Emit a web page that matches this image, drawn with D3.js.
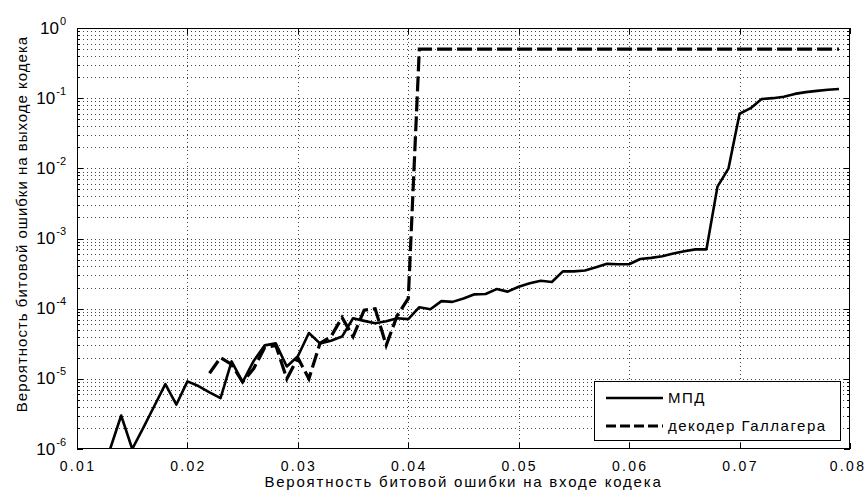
<!DOCTYPE html>
<html>
<head>
<meta charset="utf-8">
<script src="https://cdn.jsdelivr.net/npm/d3@7"></script>
<style>
  html, body { margin: 0; padding: 0; background: #fff; }
  svg text { font-family: "Liberation Sans", Arial, sans-serif; fill: #000; }
</style>
</head>
<body>
<svg id="chart" width="866" height="497"></svg>
<script>
// ---- data ----
const xTicks = [0.01, 0.02, 0.03, 0.04, 0.05, 0.06, 0.07, 0.08];
const xTickLabels = ["0.01", "0.02", "0.03", "0.04", "0.05", "0.06", "0.07", "0.08"];
const yTickExponents = [-6, -5, -4, -3, -2, -1, 0];

const seriesNames = ["МПД", "декодер Галлагера"];

const mpdX = [0.013, 0.014, 0.015, 0.016, 0.017, 0.018, 0.019, 0.020, 0.021, 0.022,
              0.023, 0.024, 0.025, 0.026, 0.027, 0.028, 0.029, 0.030, 0.031, 0.032,
              0.033, 0.034, 0.035, 0.036, 0.037, 0.038, 0.039, 0.040, 0.041, 0.042,
              0.043, 0.044, 0.045, 0.046, 0.047, 0.048, 0.049, 0.050, 0.051, 0.052,
              0.053, 0.054, 0.055, 0.056, 0.057, 0.058, 0.059, 0.060, 0.061, 0.062,
              0.063, 0.064, 0.065, 0.066, 0.067, 0.068, 0.069, 0.070, 0.071, 0.072,
              0.073, 0.074, 0.075, 0.076, 0.077, 0.078, 0.079];
const mpdY = [1.0e-6, 3.0e-6, 1.0e-6, 2.0e-6, 4.1e-6, 8.4e-6, 4.3e-6, 9.2e-6, 7.9e-6, 6.4e-6,
              5.3e-6, 1.77e-5, 9.0e-6, 1.8e-5, 3.0e-5, 3.2e-5, 1.5e-5, 2.1e-5, 4.5e-5, 3.2e-5,
              3.5e-5, 4.0e-5, 7.3e-5, 6.7e-5, 6.2e-5, 6.6e-5, 7.3e-5, 7.1e-5, 1.05e-4, 9.8e-5,
              1.28e-4, 1.25e-4, 1.4e-4, 1.6e-4, 1.62e-4, 1.9e-4, 1.75e-4, 2.05e-4, 2.3e-4, 2.5e-4,
              2.4e-4, 3.4e-4, 3.4e-4, 3.5e-4, 3.9e-4, 4.35e-4, 4.3e-4, 4.3e-4, 5.1e-4, 5.3e-4,
              5.6e-4, 6.1e-4, 6.6e-4, 7.0e-4, 7.0e-4, 5.5e-3, 1.0e-2, 6.0e-2, 7.2e-2, 9.7e-2,
              1.0e-1, 1.05e-1, 1.15e-1, 1.22e-1, 1.27e-1, 1.32e-1, 1.35e-1];

const galX = [0.022, 0.023, 0.024, 0.025, 0.026, 0.027, 0.028, 0.029, 0.030, 0.031,
              0.032, 0.033, 0.034, 0.035, 0.036, 0.037, 0.038, 0.039, 0.040, 0.041, 0.079];
const galY = [1.2e-5, 2.0e-5, 1.6e-5, 9.0e-6, 1.4e-5, 2.8e-5, 3.0e-5, 1.0e-5, 2.0e-5, 1.0e-5,
              3.2e-5, 4.0e-5, 7.5e-5, 4.0e-5, 9.5e-5, 1.0e-4, 3.0e-5, 8.0e-5, 1.4e-4, 0.5, 0.5];

// ---- layout ----
const L = 77, R = 850, T = 28, B = 449;
const svg = d3.select("#chart");

const x = d3.scaleLinear().domain([0.01, 0.08]).range([L, R]);
const y = d3.scaleLog().domain([1e-6, 1]).range([B, T]);

// minor y values
const minorY = [];
yTickExponents.slice(0, -1).forEach(e => {
  for (let m = 2; m <= 9; m++) minorY.push(m * Math.pow(10, e));
});
const majorY = yTickExponents.map(e => Math.pow(10, e));

const snap = v => Math.round(v) + 0.5;

// grid
const grid = svg.append("g").attr("stroke", "#444").attr("stroke-width", 1)
  .attr("stroke-dasharray", "1,3").attr("shape-rendering", "crispEdges");
grid.selectAll("line.h").data(majorY.concat(minorY).filter(v => v > 1e-6 && v < 1))
  .enter().append("line")
  .attr("x1", L + 2).attr("x2", R)
  .attr("y1", d => snap(y(d))).attr("y2", d => snap(y(d)));
grid.selectAll("line.v").data(xTicks.slice(1, -1))
  .enter().append("line")
  .attr("y1", T + 2).attr("y2", B)
  .attr("x1", d => snap(x(d))).attr("x2", d => snap(x(d)));

// ticks (inside), left/right and top/bottom
const ticks = svg.append("g").attr("stroke", "#000").attr("stroke-width", 1)
  .attr("shape-rendering", "crispEdges");
xTicks.forEach(v => {
  const px = snap(x(v));
  ticks.append("line").attr("x1", px).attr("x2", px).attr("y1", B).attr("y2", B - 6);
  ticks.append("line").attr("x1", px).attr("x2", px).attr("y1", T).attr("y2", T + 6);
});
majorY.forEach(v => {
  const py = snap(y(v));
  ticks.append("line").attr("x1", L).attr("x2", L + 6).attr("y1", py).attr("y2", py);
  ticks.append("line").attr("x1", R).attr("x2", R - 6).attr("y1", py).attr("y2", py);
});
minorY.forEach(v => {
  const py = snap(y(v));
  ticks.append("line").attr("x1", L).attr("x2", L + 3).attr("y1", py).attr("y2", py);
  ticks.append("line").attr("x1", R).attr("x2", R - 3).attr("y1", py).attr("y2", py);
});

// lines
const clipId = "plotclip";
svg.append("clipPath").attr("id", clipId).append("rect")
  .attr("x", L).attr("y", T).attr("width", R - L).attr("height", B - T);

const lineGen = d3.line().x(d => x(d[0])).y(d => y(d[1]));
const mpdData = mpdX.map((v, i) => [v, mpdY[i]]);
const galData = galX.map((v, i) => [v, galY[i]]);

const plot = svg.append("g").attr("clip-path", `url(#${clipId})`);
plot.append("path").datum(mpdData).attr("d", lineGen)
  .attr("fill", "none").attr("stroke", "#000").attr("stroke-width", 2.6)
  .attr("stroke-linejoin", "round");
plot.append("path").datum(galData).attr("d", lineGen)
  .attr("fill", "none").attr("stroke", "#000").attr("stroke-width", 3.2)
  .attr("stroke-dasharray", "15,5");

// frame
svg.append("rect").attr("x", L + 0.5).attr("y", T + 0.5)
  .attr("width", R - L - 1).attr("height", B - T - 1)
  .attr("fill", "none").attr("stroke", "#000").attr("stroke-width", 1)
  .attr("shape-rendering", "crispEdges");

// x tick labels
svg.append("g").selectAll("text").data(xTicks).enter().append("text")
  .attr("x", d => Math.min(x(d) + 1, 848)).attr("y", 471)
  .attr("text-anchor", "middle").attr("font-size", 14).attr("letter-spacing", 2.3)
  .text((d, i) => xTickLabels[i]);

// y tick labels 10^e
const yl = svg.append("g").selectAll("text").data(yTickExponents).enter().append("text")
  .attr("x", 66).attr("y", d => y(Math.pow(10, d)) + 5.5)
  .attr("text-anchor", "end");
yl.append("tspan").attr("font-size", 17).text("10");
yl.append("tspan").attr("font-size", 11).attr("dy", -9).attr("dx", 1)
  .text(d => d === 0 ? "0" : "-" + Math.abs(d));

// axis labels
svg.append("text").attr("x", (L + R) / 2).attr("y", 487)
  .attr("text-anchor", "middle").attr("font-size", 15).attr("letter-spacing", 1.8)
  .text("Вероятность битовой ошибки на входе кодека");
svg.append("text").attr("transform", `translate(27,224) rotate(-90)`)
  .attr("text-anchor", "middle").attr("font-size", 15).attr("letter-spacing", 1.0)
  .text("Вероятность битовой ошибки на выходе кодека");

// legend
const lg = svg.append("g");
lg.append("rect").attr("x", 594.5).attr("y", 381.5).attr("width", 246).attr("height", 59)
  .attr("fill", "#fff").attr("stroke", "#000").attr("stroke-width", 1)
  .attr("shape-rendering", "crispEdges");
const legendRows = [
  { name: seriesNames[0], dash: null, w: 2.6, cy: 398 },
  { name: seriesNames[1], dash: "10,4", w: 3.2, cy: 426 }
];
legendRows.forEach(r => {
  const ln = lg.append("line").attr("x1", 606).attr("x2", 663)
    .attr("y1", r.cy).attr("y2", r.cy).attr("stroke", "#000").attr("stroke-width", r.w);
  if (r.dash) ln.attr("stroke-dasharray", r.dash);
  lg.append("text").attr("x", 668).attr("y", r.cy + 5)
    .attr("font-size", 15).attr("letter-spacing", 1.5).text(r.name);
});
</script>
</body>
</html>
